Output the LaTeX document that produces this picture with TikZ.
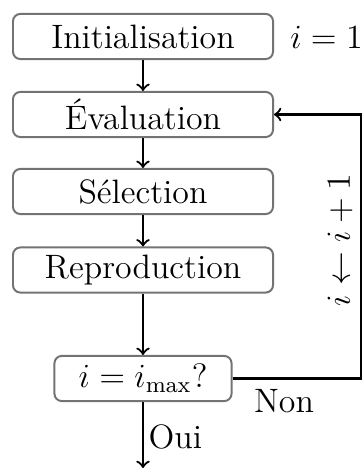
\documentclass[tikz,border=0pt]{standalone}
\begin{document}
\begin{tikzpicture}[x=0.3546pt,y=-0.3546pt,
  box/.style={draw=black!55,line width=0.7pt,rounded corners=2.6pt,minimum width=92.2pt,minimum height=16pt,inner sep=0pt,font=\large},
  dbox/.style={box,minimum width=62.8pt},
  conn/.style={->,line width=0.8pt},
  lbl/.style={font=\large,inner sep=0pt}]
\useasboundingbox (0,0) rectangle (363,468);
\node[box] (init) at (143,36.5) {Initialisation};
\node[box] (eval) at (143,114.5) {\'Evaluation};
\node[box] (sel) at (143,191.5) {S\'election};
\node[box] (rep) at (143,270) {Reproduction};
\node[dbox] (dec) at (143,378.5) {$i=i_{\max}$?};
\node[lbl] (i1) at (326.5,37) {$i=1$};
\node[lbl,rotate=90] (inc) at (340,240) {$i\leftarrow i+1$};
\node[lbl] (non) at (284,401) {Non};
\node[lbl,anchor=west] (oui) at (148,436.5) {Oui};
\coordinate (end) at (143,468);
\coordinate (cr) at (361,378.5);
\draw[conn] (init) -- (eval);
\draw[conn] (eval) -- (sel);
\draw[conn] (sel) -- (rep);
\draw[conn] (rep) -- (dec);
\draw[conn] (dec.east) -- (cr) |- (eval.east);
\draw[conn] (dec) -- (end);
\end{tikzpicture}
\end{document}
